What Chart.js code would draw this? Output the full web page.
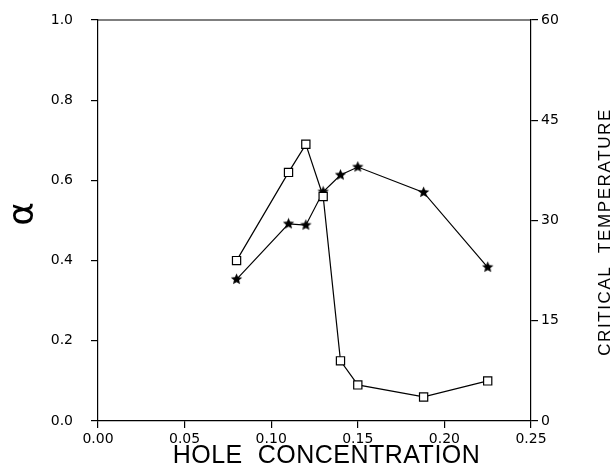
<!DOCTYPE html>
<html>
<head>
<meta charset="utf-8">
<script src="https://cdn.jsdelivr.net/npm/chart.js@4/dist/chart.umd.min.js"></script>
<style>
  html, body { margin: 0; padding: 0; background: #fff; }
  #wrap { width: 613px; height: 466px; }
</style>
</head>
<body>
<div id="wrap"><canvas id="chart" width="613" height="466"></canvas></div>
<script>
// hole concentration for each sample
const holeConc = [0.08, 0.11, 0.12, 0.13, 0.14, 0.15, 0.188, 0.225];
// alpha (left axis, squares)
const alphaVals = [0.40, 0.62, 0.69, 0.56, 0.15, 0.09, 0.06, 0.10];
// critical temperature (right axis, stars)
const tcVals = [21.2, 29.5, 29.3, 34.3, 36.8, 38.0, 34.2, 23.0];

const xTicks = [0, 0.05, 0.10, 0.15, 0.20, 0.25];
const alphaTicks = [0, 0.2, 0.4, 0.6, 0.8, 1.0];
const tcTicks = [0, 15, 30, 45, 60];

// filled five point star used as marker
function makeStar(size) {
    const c = document.createElement('canvas');
    c.width = size; c.height = size;
    const g = c.getContext('2d');
    const cx = size / 2, cy = size / 2, ro = size / 2 - 0.5, ri = ro * 0.45;
    g.beginPath();
    for (let i = 0; i < 10; i++) {
        const r = i % 2 === 0 ? ro : ri;
        const a = -Math.PI / 2 + i * Math.PI / 5;
        g.lineTo(cx + r * Math.cos(a), cy + r * Math.sin(a));
    }
    g.closePath();
    g.fillStyle = '#000';
    g.fill();
    return c;
}
const star = makeStar(13);

const font = { family: '"DejaVu Sans", sans-serif', size: 14 };

const framePlugin = {
    id: 'frame',
    afterDraw(chart) {
        const { ctx, chartArea: a } = chart;
        ctx.save();
        ctx.strokeStyle = '#000';
        ctx.lineWidth = 1.2;
        ctx.beginPath();
        ctx.moveTo(a.left, a.top);
        ctx.lineTo(a.right, a.top);
        ctx.stroke();

        ctx.fillStyle = '#000';
        ctx.textAlign = 'center';
        ctx.textBaseline = 'middle';

        ctx.font = '25px "Liberation Sans", sans-serif';
        ctx.letterSpacing = '0.5px';
        ctx.fillText('HOLE  CONCENTRATION', (a.left + a.right) / 2 + 12, 456);

        ctx.save();
        ctx.translate(605, 232);
        ctx.rotate(-Math.PI / 2);
        ctx.font = '17px "Liberation Sans", sans-serif';
        ctx.letterSpacing = '1.6px';
        ctx.fillText('CRITICAL  TEMPERATURE', 0, 0);
        ctx.restore();

        ctx.save();
        ctx.translate(24, 214);
        ctx.rotate(-Math.PI / 2);
        ctx.letterSpacing = '0px';
        ctx.font = '36px "DejaVu Sans", sans-serif';
        ctx.fillText('α', 0, 0);
        ctx.restore();

        ctx.letterSpacing = '0px';
        ctx.restore();
    }
};

const axisCommon = {
    border: { display: true, color: '#000', width: 1.2 },
    grid: { drawOnChartArea: false, drawTicks: true, tickLength: 7, color: '#000', lineWidth: 1.2 },
    ticks: { color: '#000', font: font, padding: 3 }
};

new Chart(document.getElementById('chart'), {
    type: 'line',
    data: {
        datasets: [
            {
                label: 'alpha',
                data: holeConc.map((x, i) => ({ x: x, y: alphaVals[i] })),
                yAxisID: 'y',
                borderColor: '#000',
                borderWidth: 1.2,
                pointStyle: 'rect',
                pointRadius: 5.8,
                pointBackgroundColor: '#fff',
                pointBorderColor: '#000',
                pointBorderWidth: 1.2,
                tension: 0
            },
            {
                label: 'Tc',
                data: holeConc.map((x, i) => ({ x: x, y: tcVals[i] })),
                yAxisID: 'y2',
                borderColor: '#000',
                borderWidth: 1.2,
                pointStyle: star,
                tension: 0
            }
        ]
    },
    options: {
        responsive: false,
        animation: false,
        layout: { padding: { top: 20, left: 0, right: 0, bottom: 0 } },
        plugins: { legend: { display: false }, tooltip: { enabled: false } },
        scales: {
            x: {
                type: 'linear',
                min: 0, max: 0.25,
                afterFit(s) { s.height = 45; },
                afterBuildTicks(s) { s.ticks = xTicks.map(v => ({ value: v })); },
                ...axisCommon,
                ticks: { ...axisCommon.ticks, callback: v => v.toFixed(2), maxRotation: 0 }
            },
            y: {
                position: 'left',
                min: 0, max: 1,
                afterFit(s) { s.width = 98; s.paddingTop = 0; s.paddingBottom = 0; },
                afterBuildTicks(s) { s.ticks = alphaTicks.map(v => ({ value: v })); },
                ...axisCommon,
                ticks: { ...axisCommon.ticks, padding: 18, callback: v => v.toFixed(1) }
            },
            y2: {
                position: 'right',
                min: 0, max: 60,
                afterFit(s) { s.width = 82; s.paddingTop = 0; s.paddingBottom = 0; },
                afterBuildTicks(s) { s.ticks = tcTicks.map(v => ({ value: v })); },
                ...axisCommon,
                ticks: { ...axisCommon.ticks, callback: v => String(v) }
            }
        }
    },
    plugins: [framePlugin]
});
</script>
</body>
</html>
